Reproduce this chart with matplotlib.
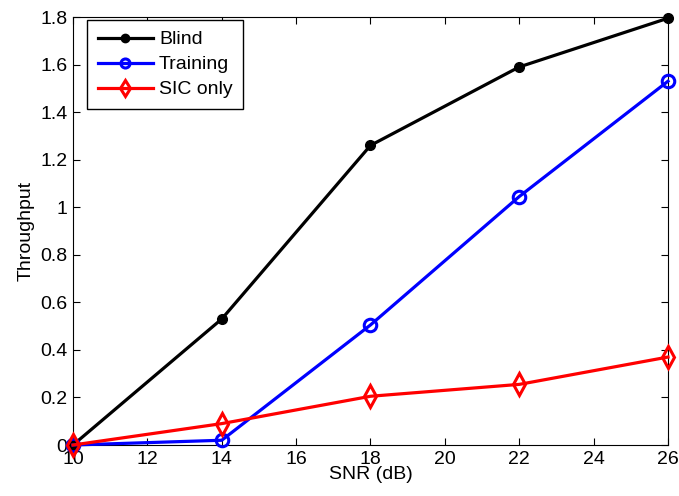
import numpy as np
import matplotlib
matplotlib.use('Agg')
import matplotlib.pyplot as plt

plt.rcParams['font.family'] = ['Liberation Sans', 'DejaVu Sans']
plt.rcParams['font.size'] = 14

snr = [10, 14, 18, 22, 26]
blind = [0.0, 0.53, 1.26, 1.59, 1.795]
training = [0.0, 0.02, 0.505, 1.045, 1.53]
sic_only = [0.0, 0.09, 0.205, 0.255, 0.37]

fig = plt.figure(figsize=(6.79, 4.96), dpi=100)
ax = fig.add_axes([0.1075, 0.1028, 0.8763, 0.8629])

ax.plot(snr, blind, 'k-', marker='o', markersize=7, linewidth=2.3, label='Blind',
        clip_on=False, zorder=3)
ax.plot(snr, training, 'b-', marker='o', markersize=9, markerfacecolor='none',
        markeredgewidth=2.2, linewidth=2.3, label='Training', clip_on=False, zorder=3)
ax.plot(snr, sic_only, 'r-', marker='d', markersize=11, markerfacecolor='none',
        markeredgewidth=2.2, linewidth=2.3, label='SIC only', clip_on=False, zorder=3)

ax.set_xlim(10, 26)
ax.set_ylim(0, 1.8)
ax.set_xticks(np.arange(10, 27, 2))
ax.set_yticks(np.arange(0, 1.81, 0.2))
ax.set_yticklabels(['0', '0.2', '0.4', '0.6', '0.8', '1', '1.2', '1.4', '1.6', '1.8'])
ax.tick_params(direction='in', top=True, right=True, length=5, labelsize=14, pad=4)
ax.set_xlabel('SNR (dB)', fontsize=14, labelpad=-1)
ax.set_ylabel('Throughput', fontsize=14, labelpad=4)

# legend box placed like the MATLAB one, slightly inset from the top-left corner
leg = ax.legend(loc='upper left', bbox_to_anchor=(0.0235, 0.993), borderaxespad=0,
                fancybox=False, edgecolor='k', framealpha=1, fontsize=14,
                handlelength=2.85, handletextpad=0.3, labelspacing=0.38,
                borderpad=0.55)
leg.get_frame().set_linewidth(1)
for h, ms in zip(leg.legend_handles, [6, 6.5, 8]):
    h.set_markersize(ms)

fig.savefig('out.png', dpi=100)
